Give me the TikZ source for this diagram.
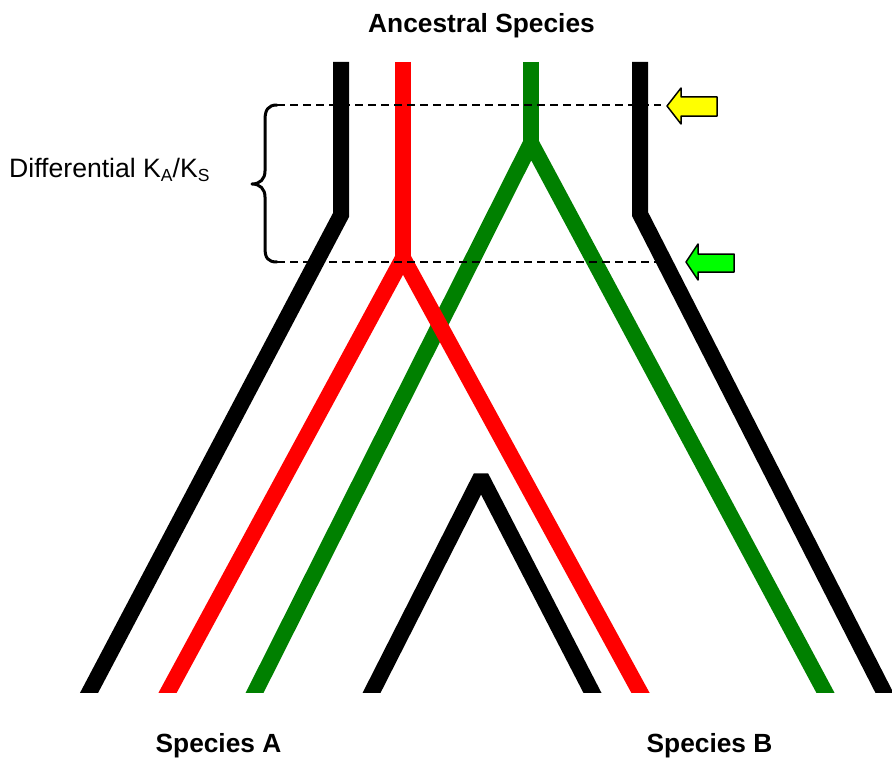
\documentclass[tikz,border=0pt]{standalone}
\usepackage{fontspec}
\setmainfont{Liberation Sans}
\usetikzlibrary{calc}
\definecolor{lineGreen}{HTML}{008000}
\definecolor{arrowYellow}{HTML}{FFFF00}
\definecolor{arrowGreen}{HTML}{00FF00}
\begin{document}
\begin{tikzpicture}[x=1pt,y=-1pt,
  lineage/.style={line width=16pt, line join=miter},
  apexline/.style={line width=16pt, line join=bevel},
  guide/.style={line width=1.4pt, dash pattern=on 8pt off 5pt},
  blockarrow/.style={draw=black, line width=1.5pt, line join=round},
  title/.style={font=\fontsize{26.3}{30}\selectfont\bfseries, inner sep=0pt, anchor=base},
  plain/.style={font=\fontsize{26.6}{30}\selectfont, inner sep=0pt, anchor=base west}]
\path[use as bounding box] (0,0) rectangle (892,760);
% coordinates
\coordinate (kLtop) at (341,62);
\coordinate (kLmid) at (341,215);
\coordinate (kLbot) at (89.5,692);
\coordinate (rTop) at (403,62);
\coordinate (rApex) at (403,258);
\coordinate (rL) at (168,692);
\coordinate (rR) at (640,692);
\coordinate (gTop) at (531,62);
\coordinate (gApex) at (531,143);
\coordinate (gL) at (255,692);
\coordinate (gR) at (825,692);
\coordinate (kRtop) at (640,62);
\coordinate (kRmid) at (640,214);
\coordinate (kRbot) at (884,692);
\coordinate (iApex) at (481,477);
\coordinate (iL) at (372,692);
\coordinate (iR) at (592,692);
\begin{scope}
\clip (0,0) rectangle (892,692);
% outer black lineages
\draw[lineage] (kLtop) -- (kLmid) -- ($(kLmid)!1.1!(kLbot)$);
\draw[lineage] (kRtop) -- (kRmid) -- ($(kRmid)!1.1!(kRbot)$);
% green
\draw[lineage, lineGreen] (gTop) -- (gApex);
\draw[apexline, lineGreen] ($(gApex)!1.1!(gL)$) -- (gApex) -- ($(gApex)!1.1!(gR)$);
% red
\draw[lineage, red] (rTop) -- (rApex);
\draw[apexline, red] ($(rApex)!1.1!(rL)$) -- (rApex) -- ($(rApex)!1.1!(rR)$);
% inner black
\draw[apexline] ($(iApex)!1.1!(iL)$) -- (iApex) -- ($(iApex)!1.1!(iR)$);
\end{scope}
% dashed guides
\coordinate (d1a) at (277,105);
\coordinate (d1b) at (661,105);
\coordinate (d2a) at (277,262);
\coordinate (d2b) at (656,262);
\draw[guide] (d1a) -- (d1b);
\draw[guide] (d2a) -- (d2b);
% brace
\draw[line width=3pt, line cap=round, line join=round]
  (d1a) .. controls (268,105) and (265,110) .. (265,120)
  -- (265,171) .. controls (265,179) and (260,184) .. (252,184)
  .. controls (260,184) and (265,189) .. (265,197)
  -- (265,248) .. controls (265,258) and (268,262) .. (d2a);
% block arrows
\draw[blockarrow, fill=arrowYellow] (667,106) -- (681,88) -- (681,97) -- (717,97) -- (717,116) -- (681,116) -- (681,124) -- cycle;
\draw[blockarrow, fill=arrowGreen] (686,262) -- (698,244) -- (698,254) -- (734,254) -- (734,272) -- (698,272) -- (698,280) -- cycle;
% texts
\node[title] (anc) at (481.5,33) {Ancestral Species};
\node[title] (spA) at (218.5,752) {Species A};
\node[title] (spB) at (709.5,752) {Species B};
\node[plain] (dkaks) at (9,177) {Differential K\raisebox{-0.18em}{\fontsize{17.5}{17.5}\selectfont A}/K\raisebox{-0.18em}{\fontsize{17.5}{17.5}\selectfont S}};
\end{tikzpicture}
\end{document}
